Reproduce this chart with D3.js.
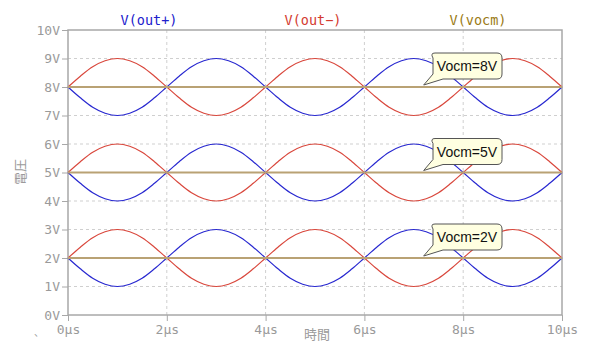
<!DOCTYPE html>
<html><head><meta charset="utf-8">
<script src="https://cdn.jsdelivr.net/npm/d3@7"></script>
<style>body{margin:0;background:#fff}</style>
</head><body>
<script>
// time samples (µs)
const timeUs = [0,0.25,0.5,0.75,1,1.25,1.5,1.75,2,2.25,2.5,2.75,3,3.25,3.5,3.75,4,4.25,4.5,4.75,5,5.25,5.5,5.75,6,6.25,6.5,6.75,7,7.25,7.5,7.75,8,8.25,8.5,8.75,9,9.25,9.5,9.75,10];
// deviation of V(out+) from Vocm (V)
const outPlusDev = [0,-0.38,-0.71,-0.92,-1,-0.92,-0.71,-0.38,0,0.38,0.71,0.92,1,0.92,0.71,0.38,0,-0.38,-0.71,-0.92,-1,-0.92,-0.71,-0.38,0,0.38,0.71,0.92,1,0.92,0.71,0.38,0,-0.38,-0.71,-0.92,-1,-0.92,-0.71,-0.38,0];
// deviation of V(out-) from Vocm (V)
const outMinusDev = [0,0.38,0.71,0.92,1,0.92,0.71,0.38,0,-0.38,-0.71,-0.92,-1,-0.92,-0.71,-0.38,0,0.38,0.71,0.92,1,0.92,0.71,0.38,0,-0.38,-0.71,-0.92,-1,-0.92,-0.71,-0.38,0,0.38,0.71,0.92,1,0.92,0.71,0.38,0];
const vocmLevels = [8,5,2];
const calloutLabels = ["Vocm=8V","Vocm=5V","Vocm=2V"];
const xTicks = [0,2,4,6,8,10];
const yTicks = [0,1,2,3,4,5,6,7,8,9,10];
const legendNames = ["V(out+)","V(out−)","V(vocm)"];

const W=600,H=361;
const m={l:68,r:38,t:30,b:46};
const svg=d3.select("body").append("svg").attr("width",W).attr("height",H);
const x=d3.scaleLinear().domain([0,10]).range([m.l,W-m.r]);
const y=d3.scaleLinear().domain([0,10]).range([H-m.b,m.t]);
const gray="#a8a8a8", tickCol="#9a9a9a";
const mono="'DejaVu Sans Mono', monospace";

// grid
svg.append("g").selectAll("line").data(xTicks.slice(1,-1)).join("line")
  .attr("x1",d=>x(d)).attr("x2",d=>x(d)).attr("y1",y(0)).attr("y2",y(10))
  .attr("stroke","#cfcfcf").attr("stroke-dasharray","3,3");
svg.append("g").selectAll("line").data(yTicks.slice(1,-1)).join("line")
  .attr("y1",d=>y(d)).attr("y2",d=>y(d)).attr("x1",x(0)).attr("x2",x(10))
  .attr("stroke","#cfcfcf").attr("stroke-dasharray","3,3");

// axes
const xa=svg.append("g").attr("transform",`translate(0,${y(0)})`)
  .call(d3.axisBottom(x).tickValues(xTicks).tickFormat(d=>d+"µs").tickSize(6).tickPadding(4));
const ya=svg.append("g").attr("transform",`translate(${x(0)},0)`)
  .call(d3.axisLeft(y).tickValues(yTicks).tickFormat(d=>d+"V").tickSize(6).tickPadding(2));
[xa,ya].forEach(g=>{
  g.select(".domain").remove();
  g.selectAll("line").attr("stroke",gray);
  g.selectAll("text").attr("fill",tickCol).attr("font-family",mono).attr("font-size",13);
});
// frame
svg.append("rect").attr("x",x(0)).attr("y",y(10)).attr("width",x(10)-x(0)).attr("height",y(0)-y(10))
  .attr("fill","none").attr("stroke",gray).attr("stroke-width",1.5);

// axis titles
svg.append("text").attr("x",317).attr("y",339).attr("text-anchor","middle")
  .attr("fill",tickCol).attr("font-family","'Noto Sans CJK JP'").attr("font-size",13).text("時間");
svg.append("text").attr("transform","translate(25,172) rotate(-90)").attr("text-anchor","middle")
  .attr("fill",tickCol).attr("font-family","'Noto Sans CJK JP'").attr("font-size",13).text("電圧");
svg.append("text").attr("x",34).attr("y",336).attr("fill",tickCol).attr("font-size",10)
  .attr("font-family","'Noto Sans CJK JP'").text("、");

// series
const line=d3.line().x((d,i)=>x(timeUs[i])).y(d=>y(d)).curve(d3.curveCatmullRom);
const plot=svg.append("g");
vocmLevels.forEach(v=>{
  plot.append("path").datum(outMinusDev.map(d=>v+d)).attr("d",line)
    .attr("fill","none").attr("stroke","#d9473c").attr("stroke-width",1.2);
  plot.append("path").datum(outPlusDev.map(d=>v+d)).attr("d",line)
    .attr("fill","none").attr("stroke","#2828d0").attr("stroke-width",1.2);
  plot.append("line").attr("x1",x(0)).attr("x2",x(10)).attr("y1",y(v)).attr("y2",y(v))
    .attr("stroke","#b9a274").attr("stroke-width",2);
});

// legend
const legCols=["#2020cc","#d33a2e","#9a7a14"];
const legX=[149,313,478];
legendNames.forEach((n,i)=>{
  svg.append("text").attr("x",legX[i]).attr("y",25).attr("text-anchor","middle")
    .attr("fill",legCols[i]).attr("font-family",mono).attr("font-size",13.5).text(n);
});

// callouts
vocmLevels.forEach((v,i)=>{
  const tipX=x(7.2), tipY=y(v)-2;
  const bx=430, bw=72, bh=26, by=y(v)-34;
  const g=svg.append("g");
  const r=5;
  const p=`M${bx+r},${by} H${bx+bw-r} Q${bx+bw},${by} ${bx+bw},${by+r} V${by+bh-r} Q${bx+bw},${by+bh} ${bx+bw-r},${by+bh}
    H${bx+13} L${tipX},${tipY} L${bx+3},${by+bh-5} V${by+r} Q${bx},${by} ${bx+r},${by} Z`;
  g.append("path").attr("d",p).attr("fill","#ffffe1").attr("stroke","#555").attr("stroke-width",1);
  g.append("text").attr("x",bx+bw/2+1).attr("y",by+bh/2+5).attr("text-anchor","middle")
    .attr("font-family","'Liberation Sans', Arial, sans-serif").attr("font-size",14).attr("fill","#111")
    .text(calloutLabels[i]);
});
</script>
</body></html>
